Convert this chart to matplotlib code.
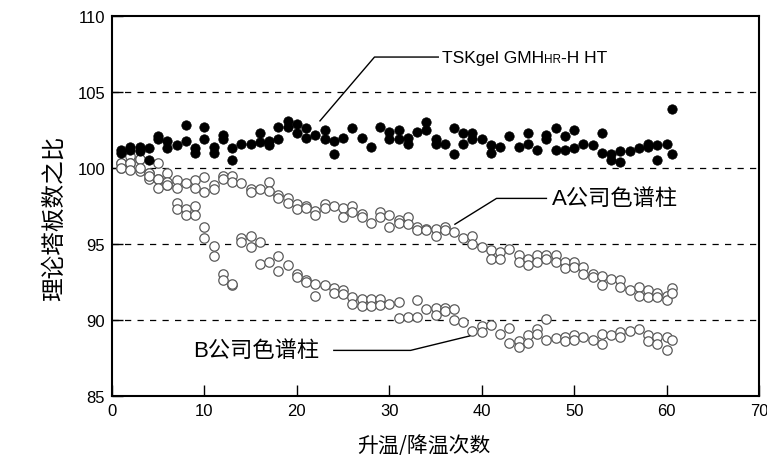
import matplotlib
matplotlib.use("Agg")
import matplotlib.pyplot as plt
from matplotlib import font_manager as fm

names = {f.name for f in fm.fontManager.ttflist}
num_font = 'Liberation Sans Narrow' if 'Liberation Sans Narrow' in names else 'Liberation Sans'
cjk = ['Noto Sans CJK SC', 'DejaVu Sans']
plt.rcParams['font.family'] = [num_font, 'Noto Sans CJK SC', 'DejaVu Sans']

# ---------------- data ----------------
tsk_x = [1, 1, 2, 2, 3, 3, 4, 4, 5, 5, 6, 6, 7, 8, 8, 9, 9, 10, 10, 11, 11, 12, 12,
         13, 13, 14, 15, 16, 16, 17, 17, 18, 18, 19, 19, 20, 20, 21, 21, 22, 23, 23,
         24, 24, 25, 26, 27, 28, 29, 30, 30, 31, 31, 32, 32, 33, 34, 34, 35, 35, 36,
         37, 37, 38, 38, 39, 39, 40, 41, 41, 42, 43, 44, 45, 45, 46, 47, 47, 48, 48,
         49, 49, 50, 50, 51, 52, 53, 53, 54, 54, 55, 55, 56, 57, 58, 58, 59, 59, 60,
         60.6, 60.6]
tsk_y = [101.2, 101.0, 101.4, 101.2, 101.4, 101.1, 101.3, 100.5, 102.1, 101.9, 101.8,
         101.3, 101.5, 102.8, 101.8, 101.0, 101.3, 102.7, 101.9, 101.4, 101.0, 102.2,
         101.9, 101.3, 100.5, 101.6, 101.6, 102.3, 101.7, 101.5, 101.8, 101.9, 102.7,
         102.7, 103.1, 102.9, 102.3, 102.6, 102.0, 102.2, 102.5, 101.9, 101.8, 100.9,
         102.0, 102.6, 102.0, 101.4, 102.7, 102.4, 101.9, 102.5, 101.9, 102.0, 101.6,
         102.4, 103.0, 102.5, 101.9, 101.6, 101.6, 102.6, 100.9, 102.3, 101.6, 102.3,
         101.9, 101.9, 101.5, 101.0, 101.4, 102.1, 101.4, 102.3, 101.6, 101.2, 102.2,
         101.9, 102.6, 101.2, 102.1, 101.2, 102.5, 101.3, 101.6, 101.5, 102.3, 101.0,
         100.9, 100.5, 101.1, 100.4, 101.1, 101.3, 101.6, 101.4, 101.5, 100.5, 101.6,
         103.9, 100.9]

a_x = [1, 1, 2, 2, 3, 3, 4, 4, 5, 5, 6, 6, 7, 7, 8, 9, 9, 10, 10, 11, 11, 12, 12,
       13, 13, 14, 15, 15, 16, 17, 17, 18, 18, 19, 19, 20, 20, 21, 21, 22, 22, 23, 23,
       24, 25, 25, 26, 26, 27, 27, 28, 29, 29, 30, 30, 31, 31, 32, 32, 33, 33, 34, 34,
       35, 35, 36, 36, 37, 38, 39, 39, 40, 41, 41, 42, 42, 43, 44, 44, 45, 45, 46, 46,
       47, 47, 48, 48, 49, 49, 50, 50, 51, 51, 52, 52, 53, 53, 54, 55, 55, 56, 57, 57,
       58, 58, 59, 59, 60, 60, 60.6, 60.6]
a_y = [100.3, 100.0, 100.8, 100.3, 100.6, 99.8, 99.7, 99.3, 100.3, 99.3, 99.7, 98.9,
       99.2, 98.7, 99.0, 99.2, 98.7, 99.4, 98.4, 98.9, 98.6, 99.5, 99.3, 99.5, 99.1,
       99.0, 98.6, 98.4, 98.6, 99.1, 98.5, 98.2, 98.0, 98.0, 97.7, 97.6, 97.3, 97.5,
       97.4, 97.2, 96.9, 97.6, 97.4, 97.5, 97.4, 96.8, 97.5, 97.1, 97.0, 96.8, 96.4,
       97.1, 96.8, 96.9, 96.1, 96.6, 96.4, 96.8, 96.3, 96.1, 95.9, 96.0, 95.9, 96.0,
       95.5, 96.1, 95.9, 95.8, 95.4, 95.5, 95.0, 94.8, 94.6, 94.0, 94.5, 94.0, 94.7,
       94.3, 93.8, 94.0, 93.6, 94.3, 93.8, 94.3, 94.0, 94.3, 93.8, 93.8, 93.4, 93.8,
       93.5, 93.5, 93.0, 93.0, 92.8, 92.9, 92.3, 92.7, 92.65, 92.15, 92.0, 92.2, 91.55,
       92.0, 91.5, 91.8, 91.5, 91.6, 91.3, 92.1, 91.8]

b_x = [1, 1, 2, 2, 3, 3, 4, 4, 5, 5, 6, 6, 7, 7, 8, 8, 9, 9, 10, 10, 11, 11, 12, 12,
       13, 13, 14, 14, 15, 15, 16, 16, 17, 18, 18, 19, 20, 20, 21, 21, 22, 22, 23, 24,
       24, 25, 25, 26, 26, 27, 27, 28, 28, 29, 29, 30, 31, 31, 32, 33, 33, 34, 35, 35,
       36, 36, 37, 37, 38, 39, 40, 40, 41, 42, 43, 43, 44, 44, 45, 45, 46, 46, 47, 47,
       48, 49, 49, 50, 50, 51, 52, 53, 53, 54, 55, 55, 56, 57, 58, 58, 59, 59, 60, 60,
       60.6]
b_y = [100.3, 100.0, 100.3, 99.9, 100.6, 100.0, 99.7, 99.5, 99.3, 98.7, 99.1, 98.9,
       97.7, 97.3, 97.3, 96.9, 97.5, 96.9, 96.1, 95.4, 94.9, 94.2, 93.0, 92.65, 92.3,
       92.4, 95.4, 95.1, 95.5, 94.8, 95.1, 93.7, 93.8, 94.2, 93.25, 93.6, 93.0, 92.8,
       92.6, 92.5, 92.4, 91.6, 92.3, 92.1, 91.8, 92.0, 91.7, 91.5, 91.05, 91.4, 90.9,
       91.4, 90.95, 91.4, 91.0, 91.05, 91.2, 90.1, 90.2, 91.3, 90.2, 90.7, 90.8, 90.3,
       90.8, 90.6, 90.7, 90.0, 89.9, 89.3, 89.6, 89.2, 89.7, 89.1, 89.5, 88.5, 88.6,
       88.2, 89.0, 88.5, 89.4, 89.1, 90.05, 88.7, 88.8, 88.9, 88.6, 89.0, 88.7, 88.85,
       88.7, 89.1, 88.45, 89.0, 89.2, 88.9, 89.3, 89.4, 89.0, 88.6, 88.85, 88.45,
       88.85, 88.0, 88.7]

x_ticks = [0, 10, 20, 30, 40, 50, 60, 70]
y_ticks = [85, 90, 95, 100, 105, 110]
grid_levels = [90, 95, 100, 105]

# ---------------- figure ----------------
fig = plt.figure(figsize=(7.67, 4.56), dpi=100)
ax = fig.add_axes([0.146, 0.1294, 0.8436, 0.8333])

for g in grid_levels:
    ax.axhline(g, color='black', lw=0.9, ls=(0, (5, 5)), zorder=1)

ax.scatter(a_x, a_y, s=46, facecolors='white', edgecolors='#5a5a5a', linewidths=0.9, zorder=3)
ax.scatter(b_x, b_y, s=46, facecolors='white', edgecolors='#5a5a5a', linewidths=0.9, zorder=3)
ax.scatter(tsk_x, tsk_y, s=46, facecolors='black', edgecolors='black', linewidths=0.5, zorder=4)

ax.set_xlim(0, 70)
ax.set_ylim(85, 110)
ax.set_xticks(x_ticks)
ax.set_yticks(y_ticks)
ax.tick_params(direction='in', length=8, width=1, labelsize=12, pad=5)
for s in ax.spines.values():
    s.set_linewidth(1.5)

ax.set_xlabel('升温/降温次数', fontsize=15, family=cjk, labelpad=8)
ax.xaxis.set_label_coords(0.482, -0.1)
ax.set_ylabel('理论塔板数之比', fontsize=17, family=cjk, labelpad=8)
ax.yaxis.set_label_coords(-0.072, 0.47)

# annotations
ax.plot([22.5, 28.4, 35.3], [103.1, 107.3, 107.3], color='black', lw=1, zorder=5)
t1 = ax.text(35.7, 107.3, 'TSKgel GMH', fontsize=12.5, va='center', ha='left',
             family=['Liberation Sans', 'DejaVu Sans'])
t2 = ax.annotate('HR', xy=(1, 0), xycoords=t1, fontsize=8.5, va='bottom', ha='left',
                 family=['Liberation Sans', 'DejaVu Sans'])
ax.annotate('-H HT', xy=(1, 0), xycoords=t2, fontsize=12.5, va='bottom', ha='left',
            family=['Liberation Sans', 'DejaVu Sans'])

ax.plot([37.1, 41.6, 47.0], [96.3, 98.0, 98.0], color='black', lw=1, zorder=5)
ax.text(47.6, 98.0, 'A公司色谱柱', fontsize=16, va='center', ha='left',
        family=['Liberation Sans', 'Noto Sans CJK SC'])

ax.plot([24.0, 32.3, 38.7], [88.0, 88.0, 88.95], color='black', lw=1, zorder=5)
ax.text(8.8, 88.0, 'B公司色谱柱', fontsize=16, va='center', ha='left',
        family=['Liberation Sans', 'Noto Sans CJK SC'])

fig.savefig('out.png', dpi=100)
